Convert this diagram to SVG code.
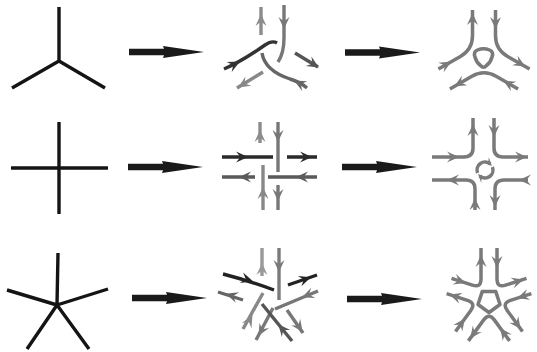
<svg xmlns="http://www.w3.org/2000/svg" width="537" height="352" viewBox="0 0 537 352">
<style>
.orig{stroke:#141414;stroke-width:3.4;fill:none}
.ln{stroke-width:3.4;fill:none;stroke-linecap:butt}
.rt{stroke:#7a7a7a;stroke-width:3.5;fill:none}
.big{fill:#1a1a1a}
</style>
<defs>
<path id="ah" d="M1,0 L-11,-5.5 L-6.5,0 L-11,5.5 Z"/>
<path id="bigArrow" d="M0,-3.2 L35,-3.2 L34,-6 L75,0 L34,6 L35,3.2 L0,3.2 Z"/>
</defs>
<rect width="537" height="352" fill="#ffffff"/>

<g id="graph-3">
<path class="orig" d="M59,7 L59,61 M59,61 L12,88 M59,61 L105,88"/>
</g>
<g id="graph-4">
<path class="orig" d="M59,122 L59,214 M11,168 L108,168"/>
</g>
<g id="graph-5">
<path class="orig" d="M58,253 L57,305 M7,290 L57,305 M108,289 L57,305 M27,349 L57,305 M89,349 L57,305"/>
</g>

<g id="split-3">
<path class="ln" stroke="#8c8c8c" d="M261,35 L261,7"/>
<use href="#ah" fill="#8c8c8c" transform="translate(261,15) rotate(-90)"/>
<path class="ln" stroke="#777" d="M284,5 L284,38 Q284,53 278,62"/>
<use href="#ah" fill="#777" transform="translate(284,28) rotate(90)"/>
<path class="ln" stroke="#333" d="M224,69 C240,62 255,52 265,45 Q272,40 277,43"/>
<use href="#ah" fill="#333" transform="translate(239,62) rotate(-27)"/>
<path class="ln" stroke="#555" d="M295,53 L318,67"/>
<use href="#ah" fill="#555" transform="translate(318,67) rotate(31)"/>
<path class="ln" stroke="#888" d="M263,72 L237,88"/>
<use href="#ah" fill="#888" transform="translate(239,87) rotate(148)"/>
<path class="ln" stroke="#666" d="M262,53 C264,66 275,74 290,79 Q300,82 307,88"/>
<use href="#ah" fill="#666" transform="translate(295,81) rotate(-152)"/>
</g>

<g id="split-4">
<path class="ln" stroke="#8c8c8c" d="M260,122 L260,143"/>
<use href="#ah" fill="#8c8c8c" transform="translate(260,131) rotate(-90)"/>
<path class="ln" stroke="#777" d="M278,122 L278,172"/>
<use href="#ah" fill="#777" transform="translate(278,141) rotate(90)"/>
<path class="ln" stroke="#2a2a2a" d="M222,157 L273,157 M287,157 L317,157"/>
<use href="#ah" fill="#2a2a2a" transform="translate(247,157)"/>
<use href="#ah" fill="#2a2a2a" transform="translate(311,157)"/>
<path class="ln" stroke="#5a5a5a" d="M222,177 L255,177 M268,177 L317,177"/>
<use href="#ah" fill="#5a5a5a" transform="translate(240,177) rotate(180)"/>
<use href="#ah" fill="#5a5a5a" transform="translate(297,177) rotate(180)"/>
<path class="ln" stroke="#888" d="M263,165 L263,210"/>
<use href="#ah" fill="#888" transform="translate(263,188) rotate(-90)"/>
<path class="ln" stroke="#777" d="M278,185 L278,210"/>
<use href="#ah" fill="#777" transform="translate(278,200) rotate(90)"/>
</g>

<g id="split-5">
<path class="ln" stroke="#999" d="M262,248 L262,276"/>
<use href="#ah" fill="#999" transform="translate(262,264) rotate(-90)"/>
<path class="ln" stroke="#7a7a7a" d="M279,248 L279,300"/>
<use href="#ah" fill="#7a7a7a" transform="translate(279,271) rotate(90)"/>
<path class="ln" stroke="#222" d="M223,274 Q250,281 274,290"/>
<use href="#ah" fill="#222" transform="translate(252,281) rotate(17)"/>
<path class="ln" stroke="#222" d="M288,285 L317,275"/>
<use href="#ah" fill="#222" transform="translate(310,277.5) rotate(-19)"/>
<path class="ln" stroke="#666" d="M218,292 L243,300"/>
<use href="#ah" fill="#666" transform="translate(227,294) rotate(198)"/>
<path class="ln" stroke="#888" d="M263,293 L243,329"/>
<use href="#ah" fill="#888" transform="translate(252,316) rotate(-61)"/>
<path class="ln" stroke="#777" d="M273,308 L256,340"/>
<use href="#ah" fill="#777" transform="translate(259,335) rotate(119)"/>
<path class="ln" stroke="#555" d="M262,304 L292,341"/>
<use href="#ah" fill="#555" transform="translate(279,325) rotate(-130)"/>
<path class="ln" stroke="#777" d="M287,310 L303,333"/>
<use href="#ah" fill="#777" transform="translate(302,331) rotate(55)"/>
<path class="ln" stroke="#777" d="M318,291 L275,309"/>
<use href="#ah" fill="#777" transform="translate(303,297) rotate(158)"/>
</g>

<g id="result-3">
<path class="rt" d="M495.5,10 L495.5,35.4 Q495.5,49.4 507.6,56.4 L529.6,69"/>
<path class="rt" d="M518.1,89 L496.1,76.3 Q484,69.3 471.9,76.3 L449.9,89"/>
<path class="rt" d="M438.4,69 L460.4,56.4 Q472.5,49.4 472.5,35.4 L472.5,10"/>
<path class="rt" d="M477.5,50 A15,15 0 0 1 489.5,50 Q494,52 492,57 A15,15 0 0 1 486.5,65.5 Q483.5,69 480.5,65.5 A15,15 0 0 1 475,57 Q473,52 477.5,50 Z"/>
<use href="#ah" fill="#7a7a7a" transform="translate(472.5,14) rotate(-90)"/>
<use href="#ah" fill="#7a7a7a" transform="translate(495.5,28) rotate(90)"/>
<use href="#ah" fill="#7a7a7a" transform="translate(524.4,66) rotate(30)"/>
<use href="#ah" fill="#7a7a7a" transform="translate(504.2,81) rotate(210)"/>
<use href="#ah" fill="#7a7a7a" transform="translate(455.1,86) rotate(150)"/>
<use href="#ah" fill="#7a7a7a" transform="translate(450.5,62) rotate(-30)"/>
</g>

<g id="result-4">
<path class="rt" d="M494,118 L494,148 Q494,157 503,157 L528,157"/>
<path class="rt" d="M528,180 L504,180 Q495,180 495,189 L495,210"/>
<path class="rt" d="M475,210 L475,189 Q475,180 466,180 L432,180"/>
<path class="rt" d="M432,157 L464,157 Q473,157 473,148 L473,118"/>
<use href="#ah" fill="#7a7a7a" transform="translate(473,125) rotate(-90)"/>
<use href="#ah" fill="#7a7a7a" transform="translate(458,157)"/>
<use href="#ah" fill="#7a7a7a" transform="translate(494,136) rotate(90)"/>
<use href="#ah" fill="#7a7a7a" transform="translate(526,157)"/>
<use href="#ah" fill="#7a7a7a" transform="translate(448,180) rotate(180)"/>
<use href="#ah" fill="#7a7a7a" transform="translate(475,199) rotate(-90)"/>
<use href="#ah" fill="#7a7a7a" transform="translate(520,180) rotate(180)"/>
<use href="#ah" fill="#7a7a7a" transform="translate(495,206) rotate(90)"/>
<path class="rt" stroke-width="3" d="M477.6,173 A8,8 0 0 1 490.3,164 M492.4,167 A8,8 0 0 1 479.7,176"/>
<use href="#ah" fill="#7a7a7a" transform="translate(491.5,165.5) rotate(45) scale(0.7)"/>
<use href="#ah" fill="#7a7a7a" transform="translate(478.5,174.5) rotate(225) scale(0.7)"/>
</g>

<g id="result-5">
<path class="rt" d="M497,248 L497,279 Q497,288 505.6,285.2 L526.5,278.4"/>
<path class="rt" d="M531.4,293.6 L510.5,300.4 Q501.9,303.2 507.2,310.5 L522.5,331.5"/>
<path class="rt" d="M509.6,340.9 L494.3,319.9 Q489,312.6 483.7,319.9 L468.4,340.9"/>
<path class="rt" d="M455.5,331.5 L470.8,310.5 Q476.1,303.2 467.5,300.4 L446.6,293.6"/>
<path class="rt" d="M451.5,278.4 L472.4,285.2 Q481,288 481,279 L481,248"/>
<path class="rt" stroke-linejoin="round" d="M489,312.5 L478,304.5 L482.2,291.6 L495.8,291.6 L500,304.5 Z"/>
<use href="#ah" fill="#7a7a7a" transform="translate(481,256) rotate(-90)"/>
<use href="#ah" fill="#7a7a7a" transform="translate(497,267) rotate(90)"/>
<use href="#ah" fill="#7a7a7a" transform="translate(522.7,279.7) rotate(-18)"/>
<use href="#ah" fill="#7a7a7a" transform="translate(518.1,298) rotate(162)"/>
<use href="#ah" fill="#7a7a7a" transform="translate(520.2,328.3) rotate(54)"/>
<use href="#ah" fill="#7a7a7a" transform="translate(500.8,328.8) rotate(234)"/>
<use href="#ah" fill="#7a7a7a" transform="translate(470.8,337.7) rotate(126)"/>
<use href="#ah" fill="#7a7a7a" transform="translate(464.3,319.4) rotate(-54)"/>
<use href="#ah" fill="#7a7a7a" transform="translate(450.4,294.9) rotate(198)"/>
<use href="#ah" fill="#7a7a7a" transform="translate(464.8,282.7) rotate(18)"/>
</g>

<g id="connectors">
<use href="#bigArrow" class="big" transform="translate(129,52)"/>
<use href="#bigArrow" class="big" transform="translate(345,52.5)"/>
<use href="#bigArrow" class="big" transform="translate(128,167)"/>
<use href="#bigArrow" class="big" transform="translate(342,167)"/>
<use href="#bigArrow" class="big" transform="translate(132,298)"/>
<use href="#bigArrow" class="big" transform="translate(347,299)"/>
</g>
</svg>
